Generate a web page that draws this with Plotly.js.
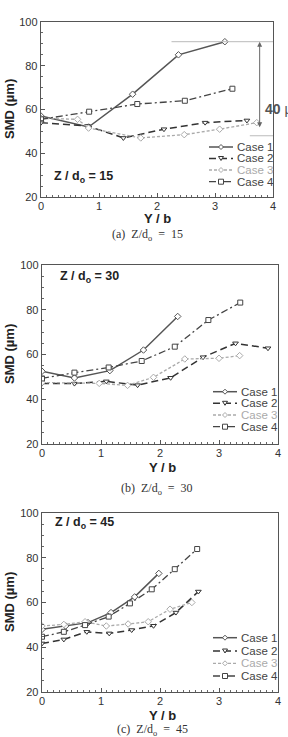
<!DOCTYPE html>
<html><head><meta charset="utf-8">
<script src="https://cdn.plot.ly/plotly-3.0.1.min.js"></script>
<style>html,body{margin:0;padding:0;background:#fff}#c{width:288px;height:737px}</style>
</head><body><div id="c"></div>
<script>
// ---- data ----
const caseNames = ['Case 1','Case 2','Case 3','Case 4'];
// Panel (a) Z/do = 15
const a_case1_x = [0, 0.82, 1.58, 2.37, 3.17];
const a_case1_y = [57, 52, 67, 85, 91];
const a_case2_x = [0, 0.8, 1.42, 2.12, 2.83, 3.55];
const a_case2_y = [54, 52.5, 47, 51, 54, 55];
const a_case3_x = [0, 0.63, 0.82, 1.72, 2.47, 3.08, 3.72];
const a_case3_y = [56, 55.5, 51.5, 47, 48.5, 51, 54];
const a_case4_x = [0, 0.83, 1.66, 2.48, 3.3];
const a_case4_y = [55.5, 59, 62.5, 64, 69.5];
// Panel (b) Z/do = 30
const b_case1_x = [0, 0.55, 1.15, 1.72, 2.3];
const b_case1_y = [52.5, 49.5, 52.8, 62, 77];
const b_case2_x = [0, 0.55, 1.09, 1.62, 2.18, 2.73, 3.28, 3.83];
const b_case2_y = [47, 47, 48, 46.3, 49.6, 58.8, 65, 62.8];
const b_case3_x = [0, 0.97, 1.45, 1.89, 2.42, 3.0, 3.35];
const b_case3_y = [47.5, 47.1, 46.2, 49.8, 58, 58.3, 59.5];
const b_case4_x = [0, 0.55, 1.13, 1.69, 2.25, 2.82, 3.36];
const b_case4_y = [49.3, 51.9, 54.2, 57.1, 63.5, 75.4, 83.2];
// Panel (c) Z/do = 45
const c_case1_x = [0, 0.4, 0.78, 1.17, 1.57, 1.98];
const c_case1_y = [48, 49.5, 51, 55.5, 62.5, 73];
const c_case2_x = [0, 0.37, 0.76, 1.14, 1.52, 1.89, 2.27, 2.65];
const c_case2_y = [41.7, 43.5, 46.9, 46.2, 47.7, 49.6, 55.5, 64.9];
const c_case3_x = [0, 0.37, 0.73, 1.09, 1.46, 1.8, 2.17, 2.54];
const c_case3_y = [49.5, 50.2, 51.4, 49.5, 50.4, 51.4, 57, 60];
const c_case4_x = [0, 0.37, 0.73, 1.13, 1.49, 1.86, 2.25, 2.63];
const c_case4_y = [44.7, 46.9, 49.9, 53.7, 59.6, 65.9, 74.9, 83.9];
const panelLabels = ['15', '30', '45'];
const captionLetters = ['(a)', '(b)', '(c)'];
const xTicks = [0, 1, 2, 3, 4];
const yTicks = [20, 40, 60, 80, 100];

// ---- styles ----
const W = 288, H = 737;
const px = x => x / W, py = y => 1 - y / H;
const styles = [
  {color:'#555', dash:'solid', width:1.5, sym:'diamond', size:5, mk:'diamond'},
  {color:'#333', dash:'7px,4px', width:1.5, sym:'triangle-down', size:5, mk:'tri'},
  {color:'#aaa', dash:'3px,2px', width:1.3, sym:'diamond', size:5, mk:'diamond'},
  {color:'#444', dash:'7px,3px,2px,3px', width:1.3, sym:'square', size:5, mk:'square'}
];
const panels = [
  {xs:[a_case1_x,a_case2_x,a_case3_x,a_case4_x], ys:[a_case1_y,a_case2_y,a_case3_y,a_case4_y]},
  {xs:[b_case1_x,b_case2_x,b_case3_x,b_case4_x], ys:[b_case1_y,b_case2_y,b_case3_y,b_case4_y]},
  {xs:[c_case1_x,c_case2_x,c_case3_x,c_case4_x], ys:[c_case1_y,c_case2_y,c_case3_y,c_case4_y]}
];
// pixel geometry of each panel
const geo = [
  {l:41, r:273, t:22, b:197, legX:209, legY:[147,158.5,170,181.7], lab:[52,177], ytitle:109, xtitle:[157,218], cap:[147,235]},
  {l:42, r:278, t:265, b:444, legX:213, legY:[391.7,403.3,415,426.7], lab:[58,277], ytitle:354, xtitle:[162,467], cap:[157,489]},
  {l:42, r:278, t:513, b:692, legX:213, legY:[637.7,651,663.3,676], lab:[53,523], ytitle:602, xtitle:[162,715], cap:[152,730]}
];

const traces = [];
const layout = {
  width: W, height: H, margin:{l:0,r:0,t:0,b:0},
  paper_bgcolor:'#fff', plot_bgcolor:'#fff', showlegend:false,
  shapes:[], annotations:[], font:{family:'Arial, Liberation Sans, sans-serif', color:'#333'}
};
panels.forEach((p, i) => {
  const sfx = i === 0 ? '' : String(i+1);
  p.xs.forEach((xv, k) => {
    const s = styles[k];
    traces.push({
      type:'scatter', mode:'lines+markers', name:caseNames[k], x:xv, y:p.ys[k],
      xaxis:'x'+sfx, yaxis:'y'+sfx,
      line:{color:s.color, width:s.width, dash:s.dash},
      marker:{symbol:s.sym, size:s.size, color:'#fff', line:{color:s.color, width:1}}
    });
  });
  const g = geo[i];
  const axBase = {showgrid:false, zeroline:false, showline:true, mirror:true, linecolor:'#555', linewidth:1.3,
    ticks:'inside', ticklen:4, tickwidth:1, tickcolor:'#555', tickfont:{family:'Arial', size:11, color:'#333'}};
  layout['xaxis'+sfx] = Object.assign({}, axBase, {
    domain:[px(g.l), px(g.r)], anchor:'y'+sfx, range:[0,4], tickvals:xTicks, ticklabelstandoff:-2,
    minor:{dtick:0.1, ticks:'inside', ticklen:2, tickcolor:'#666', showgrid:false}
  });
  layout['yaxis'+sfx] = Object.assign({}, axBase, {
    domain:[py(g.b), py(g.t)], anchor:'x'+sfx, range:[20,100], tickvals:yTicks,
    minor:{dtick:5, ticks:'inside', ticklen:2, tickcolor:'#666', showgrid:false}
  });
  // legend (manual, compact)
  caseNames.forEach((nm, k) => {
    const s = styles[k], yy = py(g.legY[k]);
    layout.shapes.push({type:'line', xref:'paper', yref:'paper', x0:px(g.legX), x1:px(g.legX+24), y0:yy, y1:yy,
      line:{color:s.color, width:s.width, dash:s.dash}});
    let path;
    if (s.mk === 'diamond') path = 'M0,2.5 L2.5,0 L0,-2.5 L-2.5,0 Z';
    else if (s.mk === 'tri') path = 'M-2.5,2 L2.5,2 L0,-2 Z';
    else path = 'M-2.5,-2.5 L2.5,-2.5 L2.5,2.5 L-2.5,2.5 Z';
    layout.shapes.push({type:'path', xref:'paper', yref:'paper', xsizemode:'pixel', ysizemode:'pixel',
      xanchor:px(g.legX+12), yanchor:yy, path:path, fillcolor:'#fff', line:{color:s.color, width:1}});
    layout.annotations.push({xref:'paper', yref:'paper', x:px(g.legX+26), y:yy, xanchor:'left', yanchor:'middle',
      text:nm, showarrow:false, font:{family:'Arial', size:11.5, color: k===2 ? '#aaa' : '#444'}});
  });
  // panel label
  layout.annotations.push({xref:'paper', yref:'paper', x:px(g.lab[0]), y:py(g.lab[1]), xanchor:'left', yanchor:'middle',
    text:'<b>Z / d<sub>o</sub> = '+panelLabels[i]+'</b>', showarrow:false, font:{family:'Arial', size:12.5, color:'#222'}});
  // y title
  layout.annotations.push({xref:'paper', yref:'paper', x:px(9), y:py(g.ytitle), xanchor:'center', yanchor:'middle', textangle:-90,
    text:'<b>SMD (µm)</b>', showarrow:false, font:{family:'Arial', size:13, color:'#222'}});
  // x title
  layout.annotations.push({xref:'paper', yref:'paper', x:px(g.xtitle[0]), y:py(g.xtitle[1]), xanchor:'center', yanchor:'middle',
    text:'<b>Y / b</b>', showarrow:false, font:{family:'Arial', size:13, color:'#222'}});
  // caption
  layout.annotations.push({xref:'paper', yref:'paper', x:px(g.cap[0]), y:py(g.cap[1]), xanchor:'center', yanchor:'middle',
    text:captionLetters[i]+'  Z/d<sub>o</sub>  =  '+panelLabels[i], showarrow:false,
    font:{family:'Liberation Serif, Times New Roman, serif', size:12, color:'#333'}});
});
// 40 µm range annotation in panel (a)
layout.shapes.push({type:'line', xref:'x', yref:'y', x0:2.25, x1:4, y0:91, y1:91, line:{color:'#bbb', width:1}});
layout.shapes.push({type:'line', xref:'x', yref:'y', x0:3.6, x1:4, y0:48, y1:48, line:{color:'#bbb', width:1}});
layout.annotations.push({xref:'x', yref:'y', axref:'x', ayref:'y', x:3.77, y:91, ax:3.77, ay:48, text:' ',
  showarrow:true, arrowhead:2, startarrowhead:2, arrowside:'end+start', arrowsize:1, arrowwidth:1, arrowcolor:'#666'});
layout.annotations.push({xref:'x', yref:'y', x:3.83, y:60, xanchor:'left', yanchor:'middle', showarrow:false,
  text:'<b>40</b> µm', font:{family:'Arial', size:14, color:'#555'}});

Plotly.newPlot('c', traces, layout, {staticPlot:true, displayModeBar:false});
</script></body></html>
